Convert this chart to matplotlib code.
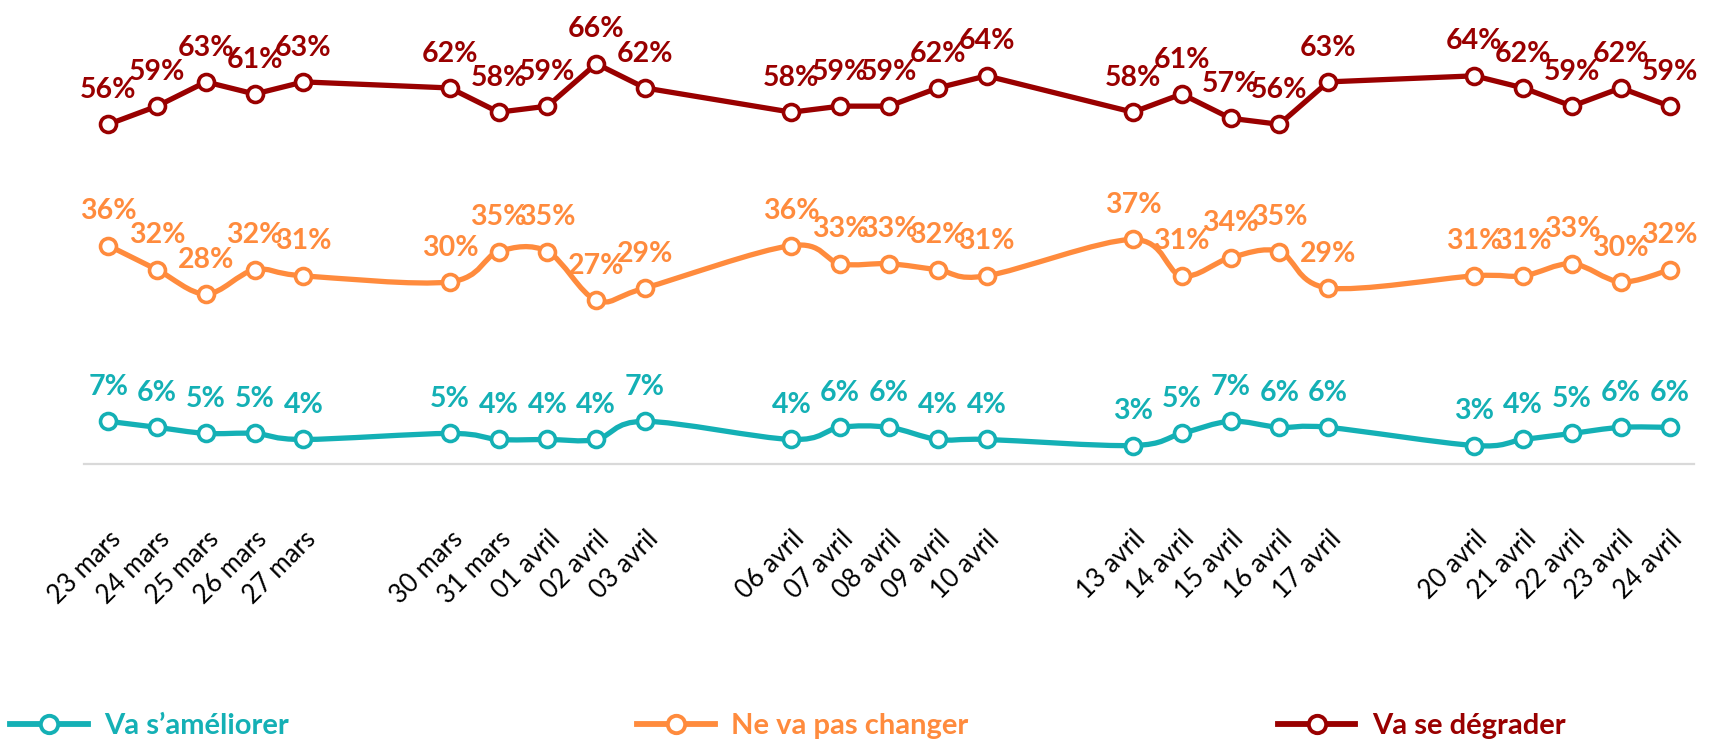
import datetime as dt
import matplotlib
matplotlib.use("Agg")
from matplotlib import pyplot as plt
from matplotlib.path import Path
from matplotlib.patches import PathPatch
from matplotlib.lines import Line2D
import matplotlib.dates as mdates

plt.rcParams['font.family'] = ['Lato', 'DejaVu Sans']

# weekdays only, 23 March -> 24 April
days = [(3, 23), (3, 24), (3, 25), (3, 26), (3, 27),
        (3, 30), (3, 31), (4, 1), (4, 2), (4, 3),
        (4, 6), (4, 7), (4, 8), (4, 9), (4, 10),
        (4, 13), (4, 14), (4, 15), (4, 16), (4, 17),
        (4, 20), (4, 21), (4, 22), (4, 23), (4, 24)]
dates = [dt.date(2020, m, d) for m, d in days]
tick_labels = ["23 mars", "24 mars", "25 mars", "26 mars", "27 mars",
               "30 mars", "31 mars", "01 avril", "02 avril", "03 avril",
               "06 avril", "07 avril", "08 avril", "09 avril", "10 avril",
               "13 avril", "14 avril", "15 avril", "16 avril", "17 avril",
               "20 avril", "21 avril", "22 avril", "23 avril", "24 avril"]

ameliorer = [7, 6, 5, 5, 4, 5, 4, 4, 4, 7, 4, 6, 6, 4, 4, 3, 5, 7, 6, 6, 3, 4, 5, 6, 6]
pas_changer = [36, 32, 28, 32, 31, 30, 35, 35, 27, 29, 36, 33, 33, 32, 31, 37, 31, 34, 35, 29, 31, 31, 33, 30, 32]
degrader = [56, 59, 63, 61, 63, 62, 58, 59, 66, 62, 58, 59, 59, 62, 64, 58, 61, 57, 56, 63, 64, 62, 59, 62, 59]

names = ["Va s\u2019améliorer", "Ne va pas changer", "Va se dégrader"]
colors = ["#14B0B5", "#FF8B3D", "#990000"]
smoothed = [True, True, False]


def smooth_path(xs, ys):
    # excel-like smoothed line: cubic bezier with catmull-rom control points
    pts = list(zip(xs, ys))
    n = len(pts)
    verts = [pts[0]]
    codes = [Path.MOVETO]
    for i in range(n - 1):
        p0 = pts[i - 1] if i > 0 else pts[i]
        p1 = pts[i]
        p2 = pts[i + 1]
        p3 = pts[i + 2] if i + 2 < n else pts[i + 1]
        c1 = (p1[0] + (p2[0] - p0[0]) / 6, p1[1] + (p2[1] - p0[1]) / 6)
        c2 = (p2[0] - (p3[0] - p1[0]) / 6, p2[1] - (p3[1] - p1[1]) / 6)
        verts += [c1, c2, p2]
        codes += [Path.CURVE4] * 3
    return Path(verts, codes)


fig = plt.figure(figsize=(17.27, 7.41), dpi=100)
ax = fig.add_axes([0.0486, 0.3742, 0.9323, 0.6216])

x = mdates.date2num(dates)
for vals, col, sm in zip([ameliorer, pas_changer, degrader], colors, smoothed):
    if sm:
        ax.add_patch(PathPatch(smooth_path(x, vals), fill=False, edgecolor=col,
                               linewidth=3.8, capstyle='round', joinstyle='round', zorder=2))
    else:
        ax.plot(x, vals, color=col, linewidth=3.8, solid_joinstyle='round', zorder=2)
    ax.plot(x, vals, ls='none', marker='o', markersize=11.5, markerfacecolor='white',
            markeredgecolor=col, markeredgewidth=2.6, zorder=3)
    for xi, v in zip(x, vals):
        ax.annotate(f"{v}%", (xi, v), xytext=(0, 19), textcoords='offset points',
                    ha='center', va='baseline', fontsize=20.5, fontweight='bold',
                    color=col, zorder=4)

ax.set_xlim(x[0] - 0.5, x[-1] + 0.5)
ax.set_ylim(0, 76)
ax.set_xticks(x)
ax.set_xticklabels(tick_labels, rotation=45, ha='right', rotation_mode='anchor', fontsize=18.5)
ax.tick_params(axis='x', length=0, pad=45)
ax.set_yticks([])
for s in ['top', 'right', 'left']:
    ax.spines[s].set_visible(False)
ax.spines['bottom'].set_color('#D9D9D9')
ax.spines['bottom'].set_linewidth(1.6)
ax.patch.set_alpha(0)

leg_x = [0.006, 0.369, 0.740]
for name, col, lx in zip(names, colors, leg_x):
    h = Line2D([], [], color=col, linewidth=4.2, marker='o', markersize=12.5,
               markerfacecolor='white', markeredgecolor=col, markeredgewidth=2.8)
    leg = fig.legend([h], [name], loc='center left', bbox_to_anchor=(lx, 0.02),
                     frameon=False, fontsize=21, handlelength=2.65, handletextpad=0.57,
                     borderpad=0, borderaxespad=0)
    for t in leg.get_texts():
        t.set_color(col)
        t.set_fontweight('bold')

fig.savefig("out.png", dpi=100)
